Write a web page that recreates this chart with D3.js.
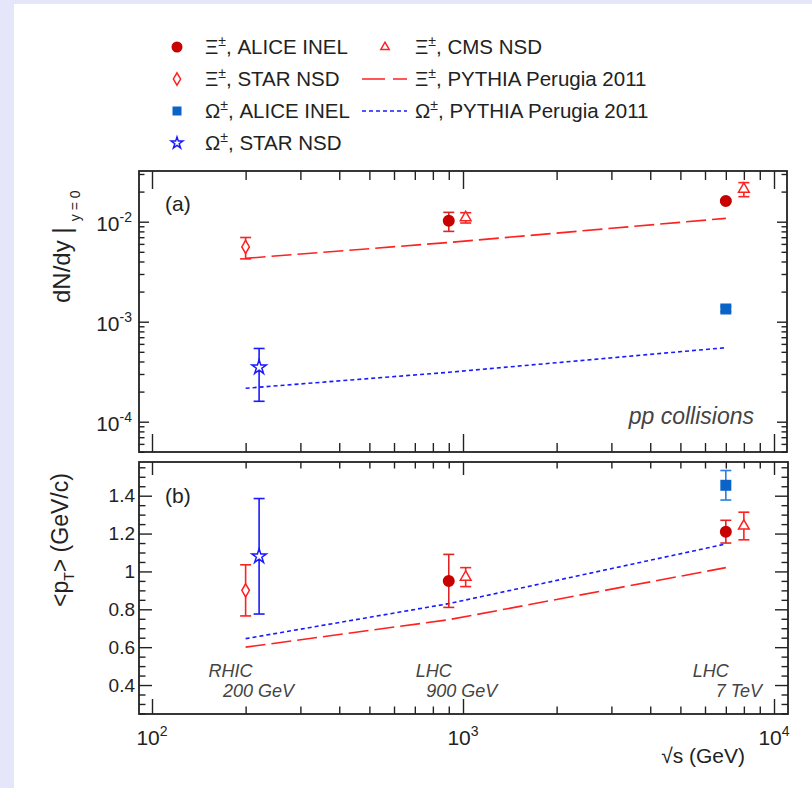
<!DOCTYPE html>
<html>
<head>
<meta charset="utf-8">
<script src="https://cdn.jsdelivr.net/npm/d3@7"></script>
<style>
  body { margin: 0; background: #e6e6fa; }
  svg { display: block; font-family: "Liberation Sans", Arial, Helvetica, sans-serif; }
</style>
</head>
<body>
<script>
// ---- data ----
// PYTHIA Perugia 2011 curves
var pythiaEnergy = [200, 900, 7000];
var pythiaXiDndy = [0.0043, 0.0062, 0.0108];
var pythiaOmegaDndy = [0.000216, 0.000312, 0.00055];
var pythiaXiMeanPt = [0.60, 0.745, 1.02];
var pythiaOmegaMeanPt = [0.645, 0.83, 1.145];

// Xi ALICE INEL
var xiAliceEnergy = [900, 7000];
var xiAliceDndy = [0.0102, 0.0161];
var xiAliceDndyErr = [0.0022, 0.0005];
var xiAliceMeanPt = [0.95, 1.21];
var xiAliceMeanPtErr = [0.14, 0.06];

// Xi CMS NSD (drawn slightly shifted in energy)
var xiCmsEnergy = [1020, 8000];
var xiCmsDndy = [0.0110, 0.0212];
var xiCmsDndyErr = [0.0013, 0.0034];
var xiCmsMeanPt = [0.97, 1.24];
var xiCmsMeanPtErr = [0.05, 0.073];

// Xi STAR NSD
var xiStarEnergy = [200];
var xiStarDndy = [0.0056];
var xiStarDndyErr = [0.00135];
var xiStarMeanPt = [0.90];
var xiStarMeanPtErr = [0.135];

// Omega ALICE INEL
var omegaAliceEnergy = [7000];
var omegaAliceDndy = [0.00134];
var omegaAliceDndyErr = [0.00008];
var omegaAliceMeanPt = [1.455];
var omegaAliceMeanPtErr = [0.078];

// Omega STAR NSD (drawn slightly shifted in energy)
var omegaStarEnergy = [221];
var omegaStarDndy = [0.00035];
var omegaStarDndyErr = [0.00019];
var omegaStarMeanPt = [1.08];
var omegaStarMeanPtErr = [0.305];

var yTicksB = [0.4, 0.6, 0.8, 1, 1.2, 1.4];
var energyLabels = [
  {e: 200, l1: "RHIC", l2: "200 GeV"},
  {e: 900, l1: "LHC", l2: "900 GeV"},
  {e: 7000, l1: "LHC", l2: "7 TeV"}
];

// ---- colours ----
var red = "#ff2020", darkRed = "#c80000", blue = "#1a1aff", midBlue = "#0a64c8";

var svg = d3.select("body").append("svg")
  .attr("width", 812)
  .attr("height", 788);

svg.append("rect").attr("width", 812).attr("height", 788).attr("fill", "#e6e6fa");
svg.append("rect").attr("x", 14).attr("y", 4).attr("width", 798).attr("height", 784).attr("fill", "#fff");

var left = 139, right = 788;
var aTop = 171, aBottom = 452;
var bTop = 462, bBottom = 714;

var x = d3.scaleLog().domain([Math.pow(10, 1.9582), Math.pow(10, 4.045)]).range([left, right]);
var yA = d3.scaleLog().domain([Math.pow(10, -4.303), Math.pow(10, -1.493)]).range([aBottom, aTop]);
var yB = d3.scaleLinear().domain([0.247, 1.578]).range([bBottom, bTop]);

// log minor ticks inside domain
function logTicks(scale, major) {
  var d = scale.domain(), lo = Math.min(d[0], d[1]), hi = Math.max(d[0], d[1]);
  var out = [];
  for (var k = Math.floor(Math.log10(lo)); k <= Math.ceil(Math.log10(hi)); k++) {
    for (var m = 1; m < 10; m++) {
      var v = m * Math.pow(10, k);
      if (v >= lo && v <= hi && ((m === 1) === major)) out.push(v);
    }
  }
  return out;
}

function ticks(g, axisFn, scale, values, size, tx, ty) {
  g.append("g")
    .attr("transform", "translate(" + tx + "," + ty + ")")
    .style("color", "#222")
    .call(axisFn(scale).tickValues(values).tickSize(-size).tickFormat(""))
    .call(function(s) { s.select(".domain").remove(); s.selectAll("line").attr("stroke-width", 1.4); });
}

var xMajor = logTicks(x, true), xMinor = logTicks(x, false);

// ---- panel frames + ticks ----
var ga = svg.append("g");
ticks(ga, d3.axisBottom, x, xMajor, 18, 0, aBottom);
ticks(ga, d3.axisBottom, x, xMinor, 9, 0, aBottom);
ticks(ga, d3.axisTop, x, xMajor, 18, 0, aTop);
ticks(ga, d3.axisTop, x, xMinor, 9, 0, aTop);
ticks(ga, d3.axisLeft, yA, logTicks(yA, true), 10, left, 0);
ticks(ga, d3.axisLeft, yA, logTicks(yA, false), 5.5, left, 0);
ticks(ga, d3.axisRight, yA, logTicks(yA, true), 10, right - 1, 0);
ticks(ga, d3.axisRight, yA, logTicks(yA, false), 5.5, right - 1, 0);
ga.append("rect").attr("x", left).attr("y", aTop).attr("width", right - 1 - left).attr("height", aBottom - aTop)
  .attr("fill", "none").attr("stroke", "#222").attr("stroke-width", 1.8);

var gb = svg.append("g");
var yMinorB = d3.range(0.25, 1.58, 0.05).filter(function(v) { return Math.abs(v * 5 - Math.round(v * 5)) > 0.01; });
ticks(gb, d3.axisBottom, x, xMajor, 15, 0, bBottom);
ticks(gb, d3.axisBottom, x, xMinor, 7.5, 0, bBottom);
ticks(gb, d3.axisTop, x, xMajor, 13, 0, bTop);
ticks(gb, d3.axisTop, x, xMinor, 6.5, 0, bTop);
ticks(gb, d3.axisLeft, yB, d3.range(0.4, 1.58, 0.2), 13, left, 0);
ticks(gb, d3.axisLeft, yB, yMinorB, 6.5, left, 0);
ticks(gb, d3.axisRight, yB, d3.range(0.4, 1.58, 0.2), 13, right, 0);
ticks(gb, d3.axisRight, yB, yMinorB, 6.5, right, 0);
gb.append("rect").attr("x", left).attr("y", bTop).attr("width", right - left).attr("height", bBottom - bTop)
  .attr("fill", "none").attr("stroke", "#222").attr("stroke-width", 1.8);

// ---- tick labels ----
var lab = svg.append("g").attr("fill", "#222");
logTicks(yA, true).forEach(function(v) {
  var t = lab.append("text").attr("x", 132).attr("y", yA(v) + 9).attr("text-anchor", "end").attr("font-size", 21);
  t.append("tspan").text("10");
  t.append("tspan").attr("dy", -9).attr("font-size", 14).text(Math.round(Math.log10(v)));
});
xMajor.forEach(function(v) {
  var t = lab.append("text").attr("x", x(v)).attr("y", 745).attr("text-anchor", "middle").attr("font-size", 21);
  t.append("tspan").text("10");
  t.append("tspan").attr("dy", -9).attr("font-size", 14).text(Math.round(Math.log10(v)));
});
svg.append("g")
  .attr("transform", "translate(" + left + ",0)")
  .call(d3.axisLeft(yB).tickValues(yTicksB).tickSize(0).tickPadding(4)
    .tickFormat(function(d) { return d === 1 ? "1" : d3.format(".1f")(d); }))
  .call(function(s) {
    s.select(".domain").remove();
    s.selectAll("text").attr("font-size", 19).attr("fill", "#222")
      .attr("font-family", "Liberation Sans, Arial, sans-serif");
  });

// axis titles
var t1 = svg.append("text").attr("transform", "translate(70,303) rotate(-90)")
  .attr("font-size", 24).attr("fill", "#222");
t1.append("tspan").text("dN/dy ");
t1.append("tspan").attr("font-size", 25).attr("dy", 1).text("|");
t1.append("tspan").attr("font-size", 14).attr("dy", 9).attr("dx", 6).text("y = 0");

var t2 = svg.append("text").attr("transform", "translate(68,607) rotate(-90)")
  .attr("font-size", 23).attr("fill", "#222");
t2.append("tspan").text("<p");
t2.append("tspan").attr("font-size", 14).attr("dy", 6).text("T");
t2.append("tspan").attr("dy", -6).text("> (GeV/c)");

var t3 = svg.append("text").attr("x", 745).attr("y", 763).attr("text-anchor", "end")
  .attr("font-size", 21).attr("fill", "#222");
t3.append("tspan").text("\u221As (GeV)");

svg.append("text").attr("x", 165).attr("y", 211).attr("font-size", 21).attr("fill", "#222").text("(a)");
svg.append("text").attr("x", 165).attr("y", 503).attr("font-size", 21).attr("fill", "#222").text("(b)");
svg.append("text").attr("x", 754).attr("y", 424).attr("text-anchor", "end").attr("font-size", 23)
  .attr("font-style", "italic").attr("fill", "#444").text("pp collisions");

energyLabels.forEach(function(d) {
  var cx = x(d.e);
  svg.append("text").attr("x", cx - 15).attr("y", 677).attr("text-anchor", "middle").attr("font-size", 18)
    .attr("font-style", "italic").attr("fill", "#444").text(d.l1);
  svg.append("text").attr("x", cx + 13).attr("y", 697).attr("text-anchor", "middle").attr("font-size", 18)
    .attr("font-style", "italic").attr("fill", "#444").text(d.l2);
});

// ---- plot content ----
function curve(g, yScale, xs, ys, color, dash) {
  var line = d3.line().x(function(d, i) { return x(xs[i]); }).y(function(d) { return yScale(d); });
  g.append("path").attr("d", line(ys)).attr("fill", "none").attr("stroke", color)
    .attr("stroke-width", 1.6).attr("stroke-dasharray", dash);
}

function errBars(g, yScale, xs, ys, errs, color) {
  xs.forEach(function(e, i) {
    var cx = x(e), y1 = yScale(ys[i] + errs[i]), y2 = yScale(ys[i] - errs[i]);
    g.append("line").attr("x1", cx).attr("x2", cx).attr("y1", y1).attr("y2", y2)
      .attr("stroke", color).attr("stroke-width", 1.6);
    [y1, y2].forEach(function(yy) {
      g.append("line").attr("x1", cx - 5.5).attr("x2", cx + 5.5).attr("y1", yy).attr("y2", yy)
        .attr("stroke", color).attr("stroke-width", 1.6);
    });
  });
}

function markers(g, yScale, xs, ys, type, size, fill, stroke) {
  xs.forEach(function(e, i) {
    g.append("path").attr("d", d3.symbol().type(type).size(size)())
      .attr("transform", "translate(" + x(e) + "," + yScale(ys[i]) + ")")
      .attr("fill", fill).attr("stroke", stroke).attr("stroke-width", 1.5);
  });
}

function series(g, yScale, set) {
  curve(g, yScale, pythiaEnergy, set.pXi, red, "20,6");
  curve(g, yScale, pythiaEnergy, set.pOm, blue, "4,3");
  errBars(g, yScale, xiStarEnergy, set.xiStar, set.xiStarErr, red);
  markers(g, yScale, xiStarEnergy, set.xiStar, d3.symbolDiamond, 50, "#fff", red);
  errBars(g, yScale, omegaStarEnergy, set.omStar, set.omStarErr, blue);
  markers(g, yScale, omegaStarEnergy, set.omStar, d3.symbolStar, 65, "#fff", blue);
  errBars(g, yScale, xiAliceEnergy, set.xiAlice, set.xiAliceErr, "#e02424");
  markers(g, yScale, xiAliceEnergy, set.xiAlice, d3.symbolCircle, 113, darkRed, "none");
  errBars(g, yScale, xiCmsEnergy, set.xiCms, set.xiCmsErr, red);
  markers(g, yScale, xiCmsEnergy, set.xiCms, d3.symbolTriangle, 50, "#fff", red);
  errBars(g, yScale, omegaAliceEnergy, set.omAlice, set.omAliceErr, "#2a7fe0");
  markers(g, yScale, omegaAliceEnergy, set.omAlice, d3.symbolSquare, 121, midBlue, "none");
}

series(svg.append("g"), yA, {
  pXi: pythiaXiDndy, pOm: pythiaOmegaDndy,
  xiStar: xiStarDndy, xiStarErr: xiStarDndyErr,
  omStar: omegaStarDndy, omStarErr: omegaStarDndyErr,
  xiAlice: xiAliceDndy, xiAliceErr: xiAliceDndyErr,
  xiCms: xiCmsDndy, xiCmsErr: xiCmsDndyErr,
  omAlice: omegaAliceDndy, omAliceErr: omegaAliceDndyErr
});
series(svg.append("g"), yB, {
  pXi: pythiaXiMeanPt, pOm: pythiaOmegaMeanPt,
  xiStar: xiStarMeanPt, xiStarErr: xiStarMeanPtErr,
  omStar: omegaStarMeanPt, omStarErr: omegaStarMeanPtErr,
  xiAlice: xiAliceMeanPt, xiAliceErr: xiAliceMeanPtErr,
  xiCms: xiCmsMeanPt, xiCmsErr: xiCmsMeanPtErr,
  omAlice: omegaAliceMeanPt, omAliceErr: omegaAliceMeanPtErr
});

// ---- legend ----
var legendItems = [
  {col: 0, row: 0, sym: d3.symbolCircle, size: 95, fill: darkRed, stroke: "none", p: "\u039E", t: ", ALICE INEL"},
  {col: 0, row: 1, sym: d3.symbolDiamond, size: 45, fill: "#fff", stroke: red, p: "\u039E", t: ", STAR NSD"},
  {col: 0, row: 2, sym: d3.symbolSquare, size: 81, fill: midBlue, stroke: "none", p: "\u03A9", t: ", ALICE INEL"},
  {col: 0, row: 3, sym: d3.symbolStar, size: 42, fill: "#fff", stroke: blue, p: "\u03A9", t: ", STAR NSD"},
  {col: 1, row: 0, sym: d3.symbolTriangle, size: 30, fill: "#fff", stroke: red, p: "\u039E", t: ", CMS NSD"},
  {col: 1, row: 1, line: red, dash: "23,8", p: "\u039E", t: ", PYTHIA Perugia 2011"},
  {col: 1, row: 2, line: blue, dash: "4,3", p: "\u03A9", t: ", PYTHIA Perugia 2011"}
];
var lg = svg.append("g");
legendItems.forEach(function(d) {
  var ry = 47 + d.row * 32;
  var mx = d.col === 0 ? 177 : 385;
  var tx = d.col === 0 ? 205 : 415;
  if (d.line) {
    lg.append("line").attr("x1", 362).attr("x2", 407).attr("y1", ry).attr("y2", ry)
      .attr("stroke", d.line).attr("stroke-width", 1.6).attr("stroke-dasharray", d.dash);
  } else {
    lg.append("path").attr("d", d3.symbol().type(d.sym).size(d.size)())
      .attr("transform", "translate(" + mx + "," + ry + ")")
      .attr("fill", d.fill).attr("stroke", d.stroke).attr("stroke-width", 1.5);
  }
  var t = lg.append("text").attr("x", tx).attr("y", ry + 7).attr("font-size", 20.5).attr("fill", "#222");
  t.append("tspan").text(d.p);
  t.append("tspan").attr("dy", -8).attr("font-size", 14).text("\u00B1");
  t.append("tspan").attr("dy", 8).text(d.t);
});
</script>
</body>
</html>
